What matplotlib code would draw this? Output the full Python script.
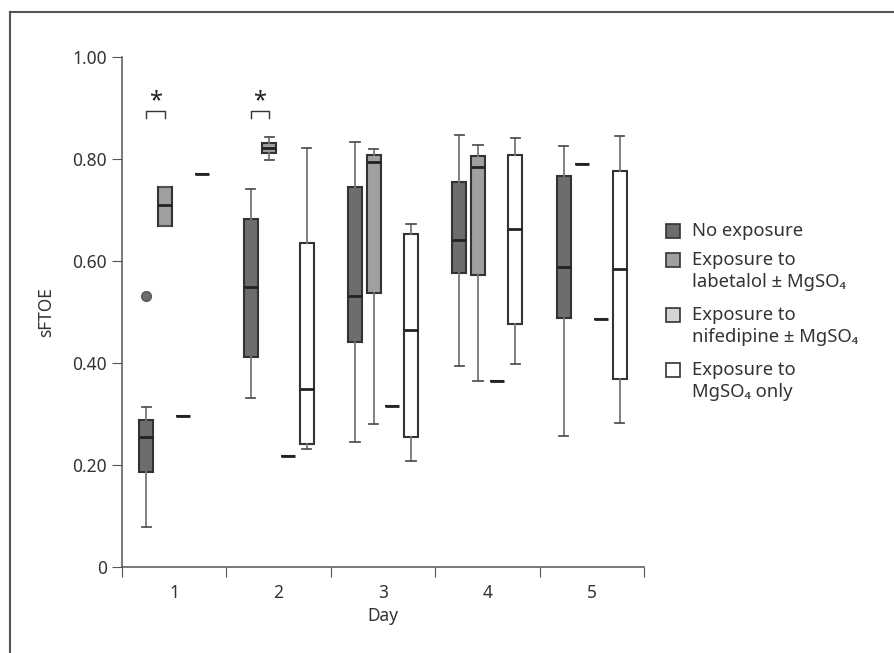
import matplotlib
matplotlib.use('Agg')
import matplotlib.pyplot as plt
from matplotlib.patches import Rectangle
from matplotlib.lines import Line2D

plt.rcParams['font.family'] = ['Noto Sans', 'DejaVu Sans']

days = [1, 2, 3, 4, 5]
groups = ['No exposure', 'Exposure to\nlabetalol ± MgSO₄',
          'Exposure to\nnifedipine ± MgSO₄', 'Exposure to\nMgSO₄ only']
colors = ['#6d6d6d', '#a0a0a0', '#d4d4d4', '#ffffff']

# per group: (whislo, q1, med, q3, whishi) for each day, None = no data
no_exposure = [(0.078, 0.186, 0.255, 0.288, 0.314),
               (0.332, 0.411, 0.550, 0.682, 0.741),
               (0.245, 0.441, 0.531, 0.746, 0.833),
               (0.394, 0.577, 0.641, 0.755, 0.848),
               (0.256, 0.489, 0.589, 0.767, 0.826)]
labetalol = [(0.669, 0.669, 0.709, 0.746, 0.746),
             (0.799, 0.811, 0.822, 0.832, 0.844),
             (0.281, 0.538, 0.795, 0.807, 0.820),
             (0.364, 0.573, 0.784, 0.805, 0.828),
             (0.790, 0.790, 0.790, 0.790, 0.790)]
nifedipine = [(0.296,) * 5, (0.218,) * 5, (0.316,) * 5, (0.365,) * 5, (0.486,) * 5]
mgso4_only = [(0.771, 0.771, 0.771, 0.771, 0.771),
              (0.231, 0.241, 0.350, 0.636, 0.822),
              (0.208, 0.254, 0.465, 0.652, 0.673),
              (0.399, 0.477, 0.663, 0.807, 0.841),
              (0.282, 0.369, 0.584, 0.777, 0.846)]
outliers = {(0, 0): [0.531]}  # (group, day index)

series = [no_exposure, labetalol, nifedipine, mgso4_only]
offsets = [-0.268, -0.089, 0.089, 0.268]
sig_days = [1, 2]  # star between group 0 and 1

W, H = 895, 653
fig = plt.figure(figsize=(W / 100, H / 100), dpi=100)
ax = fig.add_axes([0.1363, 0.1317, 0.5832, 0.781])

for g, data in enumerate(series):
    stats = []
    pos = []
    for d, v in enumerate(data):
        if v is None:
            continue
        stats.append(dict(whislo=v[0], q1=v[1], med=v[2], q3=v[3], whishi=v[4],
                          fliers=outliers.get((g, d), [])))
        pos.append(days[d] + offsets[g])
    ax.bxp(stats, positions=pos, widths=0.134, capwidths=0.09, patch_artist=True,
           boxprops=dict(facecolor=colors[g], edgecolor='#333333', linewidth=1.5),
           medianprops=dict(color='#222222', linewidth=2),
           whiskerprops=dict(color='#777777', linewidth=1.3),
           capprops=dict(color='#555555', linewidth=1.3),
           flierprops=dict(marker='o', markerfacecolor='#6d6d6d',
                           markeredgecolor='#555555', markersize=7))

# significance brackets
for d in sig_days:
    x0 = d + offsets[0]
    x1 = d + offsets[1]
    ax.plot([x0, x0, x1, x1], [0.880, 0.895, 0.895, 0.880], color='#333333', lw=1)
    ax.text((x0 + x1) / 2, 0.889, '*', ha='center', va='bottom', fontsize=17, color='#222222')

fs = 12.5
ax.set_xlim(0.5, 5.5)
ax.set_ylim(0, 1.0)
ax.set_xticks([0.5, 1.5, 2.5, 3.5, 4.5, 5.5])
ax.set_xticklabels([])
ax.set_xticks(days, minor=True)
ax.set_xticklabels([str(d) for d in days], minor=True, fontsize=fs, color='#333333')
ax.tick_params(axis='x', which='minor', length=0, pad=12)
ax.tick_params(axis='x', which='major', length=7, direction='out', color='#555555')
ax.set_yticks([0, 0.2, 0.4, 0.6, 0.8, 1.0])
ax.set_yticklabels(['0', '0.20', '0.40', '0.60', '0.80', '1.00'], fontsize=fs, color='#333333')
ax.tick_params(axis='y', length=7, direction='out', color='#555555', pad=4)
for s in ['top', 'right']:
    ax.spines[s].set_visible(False)
for s in ['left', 'bottom']:
    ax.spines[s].set_color('#555555')
    ax.spines[s].set_linewidth(1.1)
ax.set_xlabel('Day', fontsize=fs, color='#333333', labelpad=4)
ax.set_ylabel('sFTOE', fontsize=fs, color='#333333', labelpad=12)

# legend drawn by hand so the square sits on the first line
leg_top = [231, 260, 315, 370]  # pixel rows of first lines
line_gap = 22
for c, lab, yp in zip(colors, groups, leg_top):
    fig.add_artist(Rectangle((666 / W, 1 - (yp + 7) / H), 14 / W, 14 / H,
                             facecolor=c, edgecolor='#333333', linewidth=1.2))
    for i, part in enumerate(lab.split('\n')):
        fig.text(692 / W, 1 - (yp + i * line_gap) / H, part, va='center', ha='left',
                 fontsize=13.3, color='#333333')

# outer frame (left and top only)
fig.add_artist(Line2D([0.0112, 0.0112], [0, 0.9816], color='#555555', lw=1.5))
fig.add_artist(Line2D([0.0112, 1.0], [0.9816, 0.9816], color='#555555', lw=1.5))

fig.savefig('out.png', dpi=100)
